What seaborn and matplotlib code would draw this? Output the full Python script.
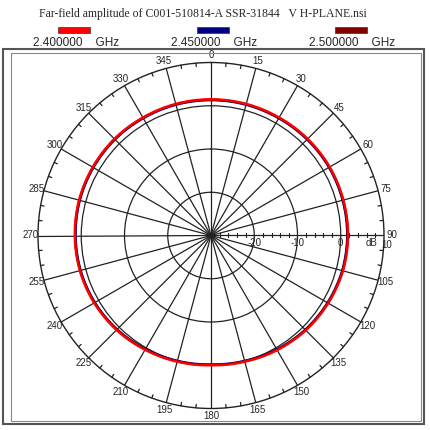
import numpy as np
import pandas as pd
import matplotlib
matplotlib.use("Agg")
import matplotlib.pyplot as plt
from matplotlib.patches import Rectangle
from matplotlib.transforms import offset_copy
import seaborn as sns

# far-field amplitude (dB) every 15 degrees
angles_deg = list(range(0, 360, 15))
gain_2400 = [1.5, 1.5, 1.5, 1.6, 1.7, 1.7, 1.7, 1.6, 1.3, 1.0, 0.6, 0.2,
             0.0, 0.2, 0.5, 0.9, 1.2, 1.4, 1.5, 1.6, 1.6, 1.6, 1.5, 1.5]
gain_2450 = [1.3, 1.3, 1.3, 1.4, 1.5, 1.5, 1.5, 1.4, 1.1, 0.8, 0.4, 0.0,
             -0.2, 0.0, 0.3, 0.7, 1.0, 1.2, 1.3, 1.4, 1.4, 1.4, 1.3, 1.3]
gain_2500 = [1.4, 1.4, 1.4, 1.5, 1.6, 1.6, 1.6, 1.5, 1.2, 0.9, 0.5, 0.1,
             -0.1, 0.1, 0.4, 0.8, 1.1, 1.3, 1.4, 1.5, 1.5, 1.5, 1.4, 1.4]
freq_labels = ["2.400000", "2.450000", "2.500000"]
freq_colors = ["#ff0000", "#000080", "#800000"]
r_ticks = [-20, -10, 0, 10]
r_minor = [-28, -26, -24, -22, -18, -16, -14, -12, -8, -6, -4, -2, 2, 4, 6, 8]
title = "Far-field amplitude of C001-510814-A SSR-31844   V H-PLANE.nsi"

sns.set_style("white")
plt.rcParams["font.family"] = ["Liberation Sans", "DejaVu Sans"]

rows = []
for f, g in zip(freq_labels, [gain_2400, gain_2450, gain_2500]):
    for a, v in zip(angles_deg + [360], g + g[:1]):
        rows.append({"theta": np.deg2rad(a), "gain": v, "freq": f})
df = pd.DataFrame(rows)

fig = plt.figure(figsize=(4.3, 4.3), dpi=100)
ax = fig.add_axes([38 / 430, 21.5 / 430, 346 / 430, 346 / 430], projection="polar")
ax.set_theta_zero_location("N")
ax.set_theta_direction(-1)

sns.lineplot(data=df, x="theta", y="gain", hue="freq",
             hue_order=["2.450000", "2.500000", "2.400000"],
             palette=dict(zip(freq_labels, freq_colors)),
             sort=False, estimator=None, lw=1.7, legend=False, ax=ax)
# draw the segments as curves in polar space
for line in ax.lines:
    line.get_path()._interpolation_steps = 40

ax.set_ylim(-30, 10)
ax.set_xlabel("")
ax.set_ylabel("")
ax.set_xticks(np.deg2rad(angles_deg))
ax.set_xticklabels([str(a) for a in angles_deg])
ax.set_yticks(r_ticks[:-1])
ax.set_yticklabels([])
ax.grid(True, color="#222222", lw=0.9)
ax.spines["polar"].set_color("#222222")
ax.spines["polar"].set_linewidth(1.0)
ax.tick_params(axis="x", which="major", length=0, pad=-1.5, labelsize=7)

# 5-degree ticks on the outer circle
for a in range(0, 360, 5):
    if a % 15:
        t = np.deg2rad(a)
        ax.plot([t, t], [9.2, 10], color="#222222", lw=0.9, clip_on=False)

# radial scale along the 90 degree spoke
ax.plot(np.full(len(r_minor), np.pi / 2), r_minor, ls="none", marker="|",
        ms=3, mew=0.8, color="#222222")
for v in r_ticks:
    dx = 3 if v == r_ticks[-1] else 0
    dy = -10 if v == r_ticks[-1] else -8
    trans = offset_copy(ax.transData, fig=fig, x=dx, y=dy, units="dots")
    ax.text(np.pi / 2, v, str(v), transform=trans, ha="center", va="center",
            fontsize=7)
trans = offset_copy(ax.transData, fig=fig, x=0, y=-8, units="dots")
ax.text(np.pi / 2, 7.0, "dB", transform=trans, ha="center", va="center", fontsize=7)

# title and frequency legend
fig.text(203 / 430, 1 - 14 / 430, title, ha="center", va="center",
         family="Liberation Serif", fontsize=8.5)
for f, c, xc in zip(freq_labels, freq_colors, [74, 212.5, 350.5]):
    fig.add_artist(Rectangle(((xc - 16) / 430, 1 - 33 / 430), 32 / 430, 6 / 430,
                             transform=fig.transFigure, fc=c, ec="#333333", lw=0.5))
    fig.text((xc + 2) / 430, 1 - 43 / 430, f + "    GHz", ha="center",
             va="center", fontsize=8.5)

# panel frame
fig.add_artist(Rectangle((3 / 430, 1 - 424 / 430), 421 / 430, 375 / 430,
                         transform=fig.transFigure, fill=False, ec="#555555", lw=1.5))
fig.add_artist(Rectangle((11 / 430, 1 - 421 / 430), 410 / 430, 368 / 430,
                         transform=fig.transFigure, fill=False, ec="#888888", lw=0.8))

fig.savefig("out.png", dpi=100)
